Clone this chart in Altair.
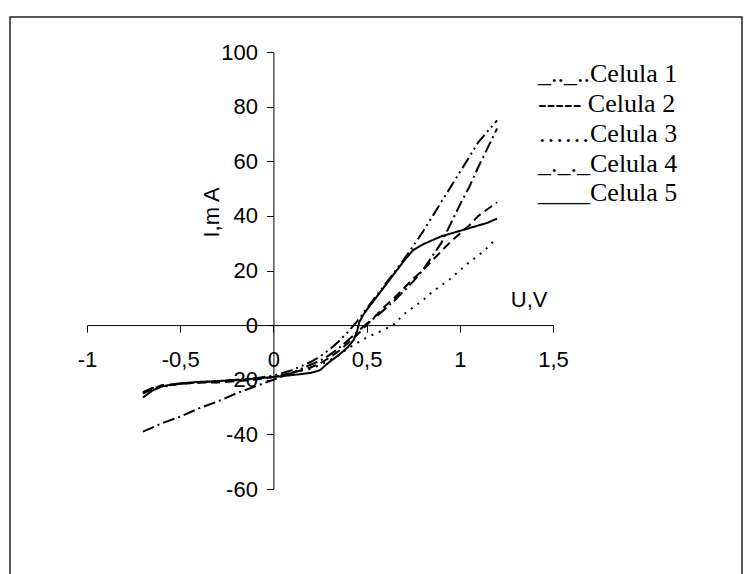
import altair as alt
import pandas as pd

# ---- data ----
series_names = ["Celula 1", "Celula 2", "Celula 3", "Celula 4", "Celula 5"]

grid = [-0.7, -0.65, -0.6, -0.5, -0.4, -0.3, -0.2, -0.1, 0, 0.1, 0.2, 0.25, 0.3, 0.35, 0.4,
        0.45, 0.5, 0.55, 0.6, 0.65, 0.7, 0.75, 0.8, 0.85, 0.9, 0.95, 1.0, 1.05, 1.1, 1.15, 1.2]

u1 = grid
i1 = [-24.5, -23, -22.5, -21.5, -21, -20.5, -20, -19.5, -18.5, -16.5, -13.5, -11.5, -9, -6, -2.5,
      1.5, 6, 10.5, 15, 19.5, 24, 29, 34, 39.5, 45, 50.5, 56, 61.5, 67, 71, 75]

u2 = grid
i2 = [-25, -23.5, -22, -21.5, -21, -21, -20.5, -20, -19, -17.5, -15.5, -14, -12, -9.5, -6.5,
      -3.5, 0, 3.5, 7, 10, 13.5, 17, 20, 23.5, 27, 30.5, 33.5, 36.5, 40, 42.5, 45]

u3 = grid
i3 = [-25, -23.5, -22.5, -21.5, -21, -20.5, -20, -19.5, -19, -17.5, -16, -14.5, -13, -11, -8.5,
      -6.5, -4.5, -3, -1.5, 0.5, 4, 6.5, 9, 12, 14.5, 17, 20, 23, 25.5, 28.5, 32]

u4 = grid
i4 = [-39, -37.5, -36, -33.5, -30.5, -28, -25, -22.5, -20, -17.5, -14.5, -13, -11, -8.5, -5.5,
      -2.5, 0.5, 3, 6, 9, 12.5, 16, 20, 25, 30, 37, 44, 50.5, 58, 65, 72]

u5 = [-0.7, -0.65, -0.6, -0.55, -0.5, -0.4, -0.3, -0.2, -0.1, 0, 0.1, 0.2, 0.25, 0.3, 0.35,
      0.4, 0.43, 0.45, 0.46, 0.48, 0.5, 0.55, 0.6, 0.65, 0.7, 0.75, 0.8, 0.85, 0.9, 0.95,
      1.0, 1.05, 1.1, 1.15, 1.2]
i5 = [-26.5, -24, -22.5, -21.8, -21.3, -20.8, -20.5, -20.2, -19.6, -19, -18.3, -17.5, -16.5, -13.5, -11,
      -8, -5.5, -2, 1, 3.5, 5.5, 10, 14.5, 19, 23.5, 27.5, 29.5, 31, 32.5, 33.5,
      34.5, 35.5, 36.5, 37.5, 39]

x_ticks = [-1, -0.5, 0, 0.5, 1, 1.5]
y_ticks = [-60, -40, -20, 0, 20, 40, 60, 80, 100]

legend_texts = ["_.._..Celula 1", "----- Celula 2", "\u2026\u2026Celula 3", "_._._Celula 4", "____Celula 5"]

# ---- build table ----
rows = []
for name, us, iis in zip(series_names, [u1, u2, u3, u4, u5], [i1, i2, i3, i4, i5]):
    for u, i in zip(us, iis):
        rows.append({"serie": name, "U": u, "I": i})
df = pd.DataFrame(rows)

dash_styles = [[12, 4, 2, 4, 2, 4], [9, 5], [2, 6], [12, 4, 2, 4], [1, 0]]

SANS = "Liberation Sans Narrow, Arial Narrow, Liberation Sans, sans-serif"
SERIF = "Liberation Serif, Times New Roman, serif"

W, H = 466, 437

x_axis = alt.Axis(
    values=x_ticks, grid=False, offset=-163.9, orient="bottom",
    labelExpr="replace(toString(datum.value), '.', ',')",
    labelFont=SANS, labelFontSize=22, labelColor="black", labelPadding=17,
    labelFlush=False, labelOverlap=False,
    domainColor="black", tickColor="black", tickSize=7,
    title="U,V", titleFont=SANS, titleFontSize=22, titleFontWeight="normal",
    titleColor="black", titleX=441.7, titleY=-26, titleAlign="center",
    titleBaseline="middle", titleAngle=0,
)
y_axis = alt.Axis(
    values=y_ticks, grid=False, offset=-186.4, orient="left",
    labelExpr="replace(toString(datum.value), '.', ',')",
    labelFont=SANS, labelFontSize=22, labelColor="black", labelPadding=9,
    labelFlush=False, labelOverlap=False,
    domainColor="black", tickColor="black", tickSize=7,
    title="I,m A", titleFont=SANS, titleFontSize=22, titleFontWeight="normal",
    titleColor="black", titleX=-62, titleY=160, titleAlign="center",
    titleBaseline="middle", titleAngle=270,
)

lines = alt.Chart(df).mark_line(color="black", strokeWidth=2).encode(
    x=alt.X("U:Q", scale=alt.Scale(domain=[-1, 1.5], nice=False, zero=False), axis=x_axis),
    y=alt.Y("I:Q", scale=alt.Scale(domain=[-60, 100], nice=False, zero=False), axis=y_axis),
    strokeDash=alt.StrokeDash("serie:N", scale=alt.Scale(domain=series_names, range=dash_styles),
                              legend=None),
    detail="serie:N",
)

one = pd.DataFrame({"k": [0]})

frame = alt.Chart(one).mark_rect(fillOpacity=0, stroke="#222222", strokeWidth=1.5).encode(
    x=alt.value(-77), x2=alt.value(655), y=alt.value(-35), y2=alt.value(540)
)

legend_layers = []
legend_y = [30, 60, 90, 119.5, 149]
for txt, yy in zip(legend_texts, legend_y):
    legend_layers.append(
        alt.Chart(one).mark_text(align="left", baseline="alphabetic", font=SERIF,
                                 fontSize=26, color="black").encode(
            x=alt.value(451), y=alt.value(yy), text=alt.value(txt)
        )
    )

chart = alt.layer(frame, lines, *legend_layers).properties(
    width=W, height=H,
    autosize=alt.AutoSizeParams(type="none"),
    padding={"left": 87, "top": 52, "right": 197, "bottom": 85},
    background="white",
).configure_view(stroke=None)

chart.save("out.html", embed_options={"renderer": "svg", "actions": False})
